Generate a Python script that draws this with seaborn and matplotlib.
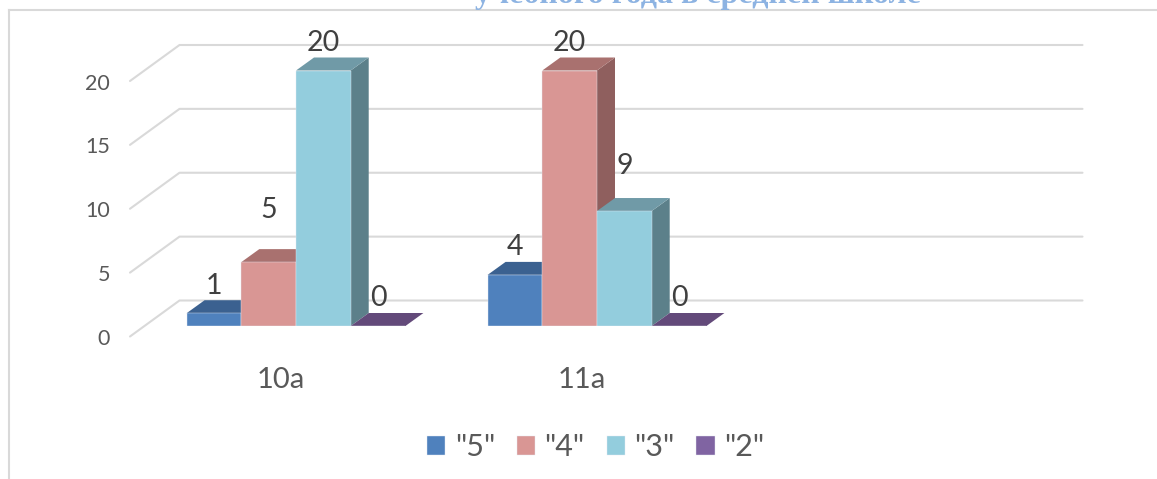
"""Столбчатая диаграмма с псевдо-3D гранями: оценки по классам."""

import matplotlib.pyplot as plt
import matplotlib.transforms as mtrans
import pandas as pd
import seaborn as sns
from matplotlib.patches import Polygon

classes = ["10а", "11а"]
grades = ['"5"', '"4"', '"3"', '"2"']
values_10a = [1, 5, 20, 0]
values_11a = [4, 20, 9, 0]
y_ticks = [0, 5, 10, 15, 20]
title_text = "учебного года в средней школе"

W, H = 1157, 479
FRONT = ["#4f81bd", "#d99694", "#93cddd", "#8064a2"]
TOP = ["#3b6190", "#a9716f", "#709aa7", "#634a7a"]
SIDE = ["#345578", "#8f5f5e", "#5c808a", "#553f6c"]
GRID = "#d9d9d9"
BAR_DX, BAR_DY = 18, 13      # depth of a bar, px
WALL_DX, WALL_DY = 34, 25.5  # back wall relative to bar fronts, px
FLOOR_DX, FLOOR_DY = -15.5, -10.5  # front edge of the side wall, px
# labels that Excel pushed higher than the others (class, grade): px
LABEL_SHIFT = {(0, 1): 25, (1, 2): 18}

df = pd.DataFrame({
    "cls": [classes[0]] * 4 + [classes[1]] * 4,
    "grade": grades * 2,
    "value": values_10a + values_11a,
})

sns.set_style("white")
plt.rcParams["font.family"] = ["Lato", "DejaVu Sans"]

fig = plt.figure(figsize=(W / 100, H / 100), dpi=100)

# outer chart frame: only left and top are visible in the crop
frame = fig.add_axes([9 / W, 0, (W - 9) / W, (H - 10) / H])
frame.set_xticks([])
frame.set_yticks([])
sns.despine(ax=frame, top=False, right=True, bottom=True)
for side in ("left", "top"):
    frame.spines[side].set_color(GRID)
    frame.spines[side].set_linewidth(1.5)

ax = fig.add_axes([145.5 / W, (H - 326) / H, 903 / W, 255.5 / H])
ax.patch.set_alpha(0)
sns.barplot(
    data=df, x="cls", y="value", hue="grade",
    order=classes + [""], hue_order=grades,
    palette=FRONT, width=0.727, gap=0, saturation=1,
    edgecolor="#e4e9f2", linewidth=0.3, ax=ax, zorder=5,
)
ax.set_xlim(-0.5, 2.5)
ax.set_ylim(0, 20)
ax.set_xlabel("")
ax.set_ylabel("")
sns.despine(ax=ax, left=True, bottom=True)
ax.set_yticks(y_ticks)
ax.tick_params(axis="both", length=0)
ax.tick_params(axis="y", labelsize=15.5, labelcolor="#595959", pad=25.5)
ax.tick_params(axis="x", labelsize=21, labelcolor="#595959", pad=29.5)
for lab in ax.get_yticklabels():
    lab.set_transform(lab.get_transform() + mtrans.Affine2D().translate(0, -11))
for lab in ax.get_xticklabels():
    lab.set_transform(lab.get_transform() + mtrans.Affine2D().translate(-15, 0))

# back wall and side wall gridlines, from the y scale
for v in y_ticks:
    x0, y0 = ax.transData.transform((-0.5, v))
    x1, y1 = ax.transData.transform((2.5, v))
    ax.plot(
        [x0 + FLOOR_DX, x0 + WALL_DX, x1 + WALL_DX],
        [y0 + FLOOR_DY, y0 + WALL_DY, y1 + WALL_DY],
        color=GRID, lw=1.5, transform=None, clip_on=False, zorder=1,
    )

# fake 3D: top and side face for every bar made by seaborn
for g, cont in enumerate(ax.containers):
    for c, bar in enumerate(cont):
        if bar.get_height() != bar.get_height():
            continue
        (xa, ya), (xb, yb) = ax.transData.transform(
            [(bar.get_x(), 0), (bar.get_x() + bar.get_width(), bar.get_height())]
        )
        top = [(xa, yb), (xb, yb), (xb + BAR_DX, yb + BAR_DY), (xa + BAR_DX, yb + BAR_DY)]
        side = [(xb, ya), (xb + BAR_DX, ya + BAR_DY), (xb + BAR_DX, yb + BAR_DY), (xb, yb)]
        order = 5 + g * 0.1
        bar.set_zorder(order + 0.02)
        ax.add_patch(Polygon(side, closed=True, fc=SIDE[g], ec="none",
                             transform=None, clip_on=False, zorder=order))
        ax.add_patch(Polygon(top, closed=True, fc=TOP[g], ec="none",
                             transform=None, clip_on=False, zorder=order + 0.01))
        lift = 27.5 + LABEL_SHIFT.get((c, g), 0)
        ax.annotate(
            f"{int(bar.get_height())}", ((xa + xb) / 2, yb),
            xycoords="figure pixels", xytext=(0, lift * 0.72),
            textcoords="offset points", ha="center", va="center",
            fontsize=20.5, color="#404040", zorder=10, annotation_clip=False,
        )

sns.move_legend(
    ax, "center", bbox_to_anchor=(595.5 / W, (H - 447) / H),
    bbox_transform=fig.transFigure, ncol=4, frameon=False, title=None,
    fontsize=22, labelcolor="#595959", handlelength=0.6, handleheight=0.6,
    handletextpad=0.3, columnspacing=0.72,
)

# the chart title is cut by the upper edge of the crop
fig.text(697.5 / W, (H - 3.5) / H, title_text, family="Liberation Serif", weight="bold",
         fontsize=23, color="#8db3e2", ha="center", va="baseline")

fig.savefig("out.png", dpi=100)
